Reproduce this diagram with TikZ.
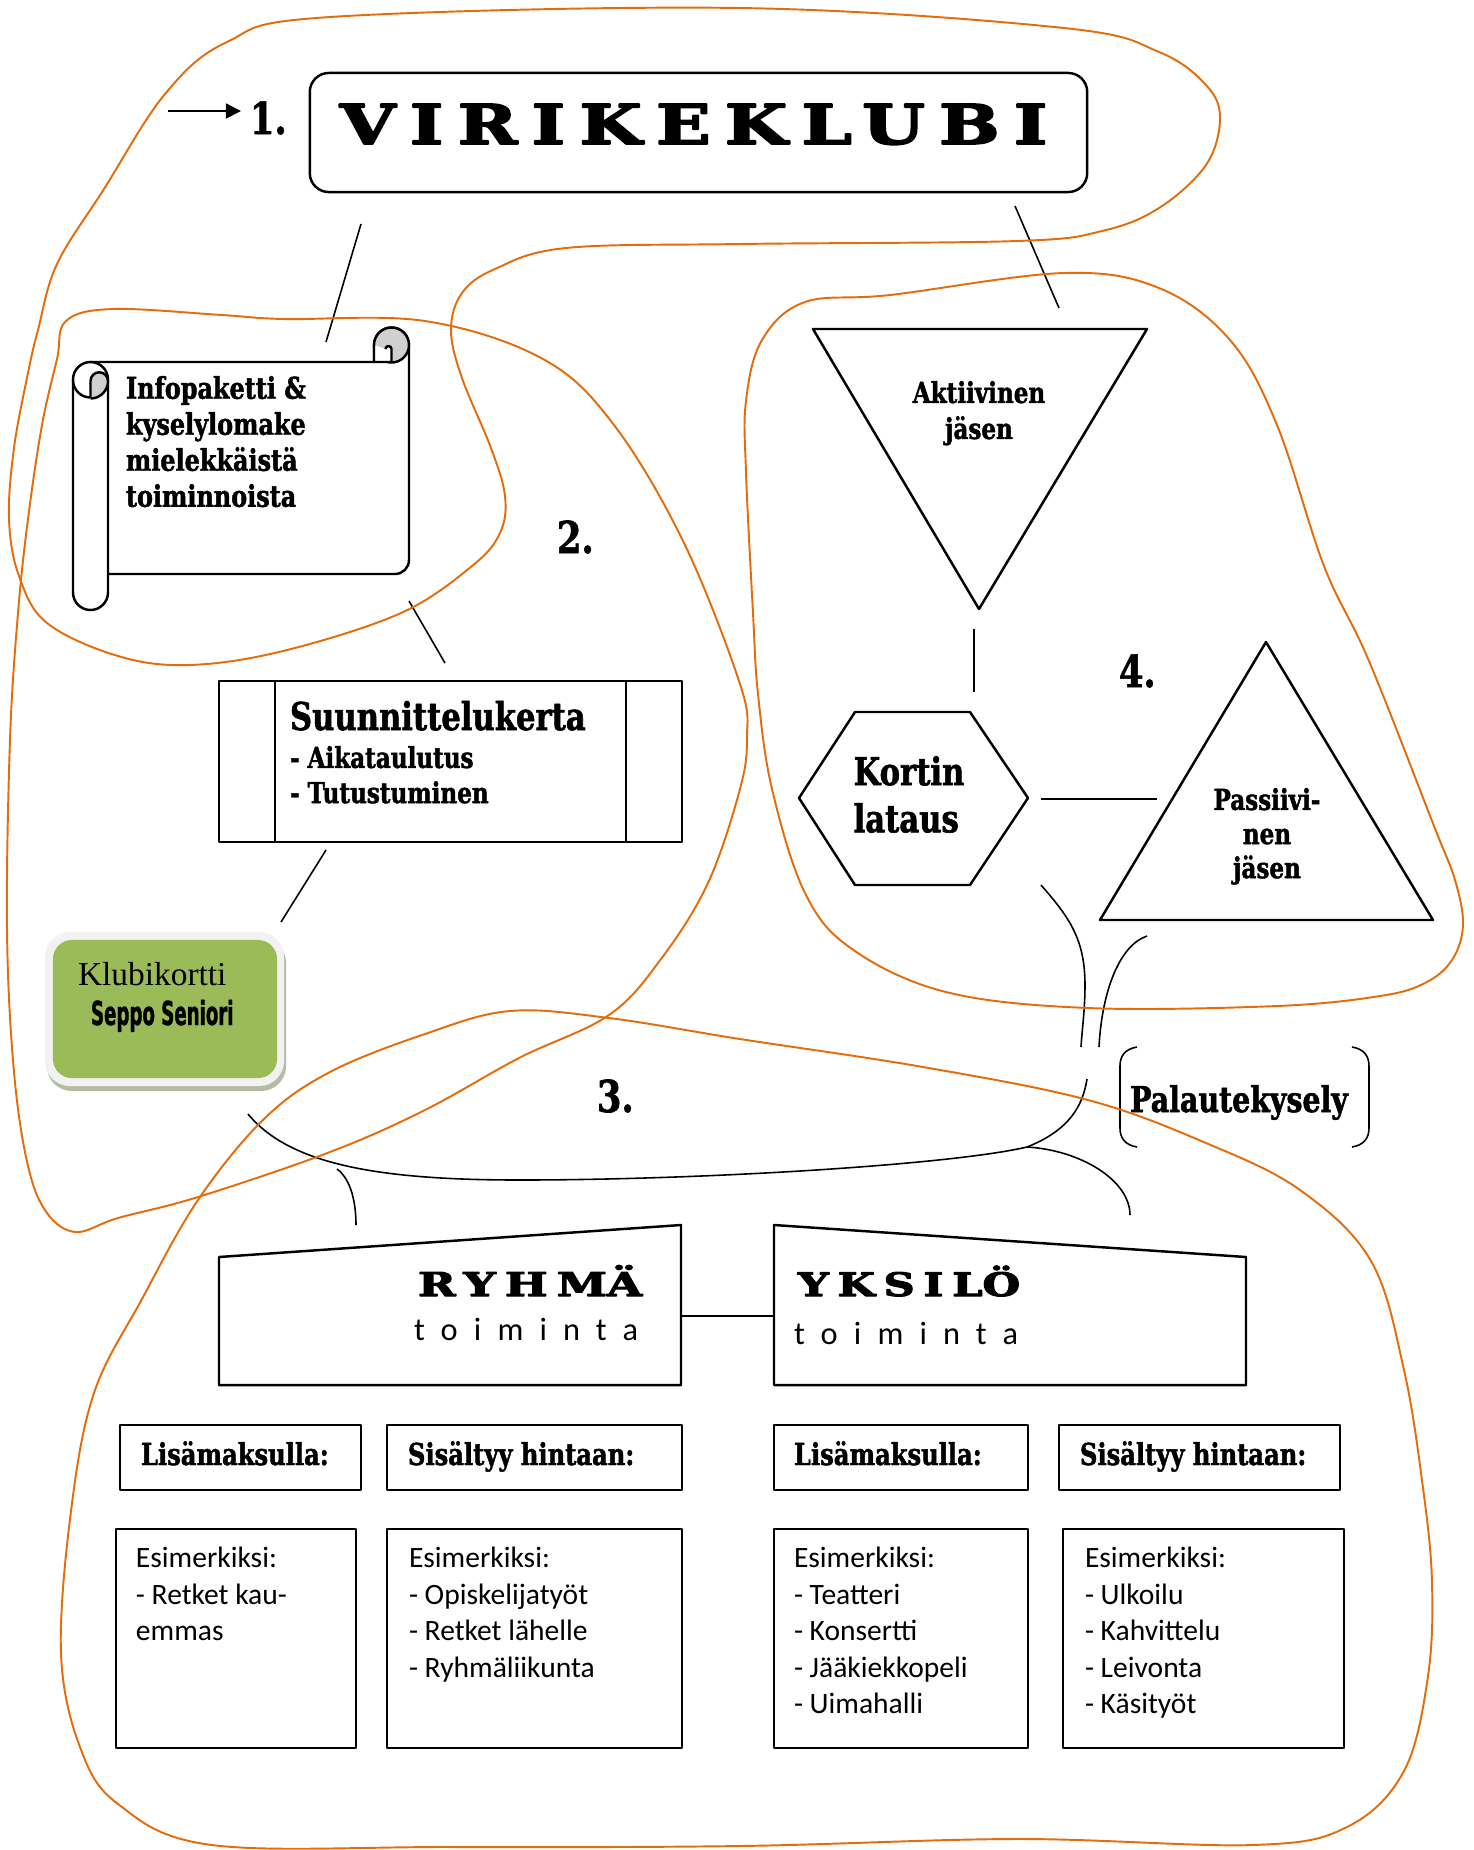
\documentclass[tikz,border=0pt]{standalone}
\usepackage{fontspec}
\usepackage{graphicx}
\usetikzlibrary{arrows.meta,calc}
\newfontfamily\heavyfont[FakeStretch=0.8,FakeBold=1.5]{DejaVu Serif}
\newfontfamily\widefont[LetterSpace=20,FakeBold=3]{DejaVu Serif}
\newfontfamily\calfont{Carlito}
\newfontfamily\spacedfont[LetterSpace=50]{Carlito}
\newfontfamily\timesfont{Liberation Serif}
\newfontfamily\narrowfont[FakeStretch=0.55,FakeBold=1]{DejaVu Sans}
\definecolor{blobline}{RGB}{228,108,10}
\definecolor{cardgreen}{RGB}{155,187,89}
\definecolor{cardframe}{RGB}{242,242,242}
\definecolor{cardshade}{RGB}{180,188,164}
\definecolor{curlgray}{RGB}{208,208,208}
\begin{document}
\begin{tikzpicture}[x=0.01cm, y=-0.01cm, line join=round,
    every node/.style={inner sep=0pt, outer sep=0pt},
    box/.style={draw, line width=0.7pt},
    link/.style={line width=0.45pt},
    blob/.style={draw=blobline, line width=0.55pt},
    heavy/.style 2 args={font=\heavyfont\bfseries\fontsize{#1}{#2}\selectfont},
    number/.style={heavy={12.5}{14}, anchor=base west},
    head/.style={heavy={8.6}{10}, anchor=base west},
    example/.style={font=\calfont\fontsize{8.4}{10.4}\selectfont, align=left, anchor=north west},
    spaced/.style={font=\spacedfont\fontsize{9.2}{11}\selectfont, anchor=base west}]
    \useasboundingbox (0,0) rectangle (1474,1850);

    % 1. the club
    \node[box, rounded corners=0.19cm, minimum width=7.77cm, minimum height=1.19cm] (club) at (698.5,132.5) {};
    \node[anchor=base west] (clubname) at (340,144) {\resizebox{7.07cm}{0.40cm}{\widefont\bfseries VIRIKEKLUBI}};
    \node[number] (one) at (250,134) {1.};
    \coordinate (arrowstart) at (168,111);
    \draw[link, -{Triangle[length=1.5mm,width=1.5mm]}, shorten >=0.9mm] (arrowstart) -- (one.west |- arrowstart);

    % 2. scroll, planning, card
    \draw[box, fill=white] (90,362) -- (374,362) -- (374,345) arc[start angle=180, end angle=360, radius=17.5]
        -- (409,560) arc[start angle=0, end angle=90, radius=14] -- (108,574);
    \filldraw[box, fill=curlgray] (391.5,345) circle[radius=17.5];
    \filldraw[box, fill=white] (374,345) -- (374,362) -- (391.5,362) -- (391.5,349) arc[start angle=0, end angle=-180, radius=3];
    \filldraw[box, fill=white, rounded corners=0.175cm] (73,362) rectangle (108,610);
    \filldraw[box, fill=curlgray] (90.5,397) -- (90.5,381) arc[start angle=180, end angle=360, radius=8.75]
        arc[start angle=0, end angle=90, radius=17.5];
    \draw[box] (73,380) arc[start angle=180, end angle=90, radius=17.5];
    \node[heavy={8.5}{10.24}, align=left, anchor=north west] (info) at (126,376)
        {Infopaketti \&\\kyselylomake\\mielekkäistä\\toiminnoista};
    \node[number] (two) at (557,553) {2.};

    \node[box, minimum width=4.63cm, minimum height=1.61cm] (plan) at (450.5,761.5) {};
    \draw[box] ([xshift=0.56cm]plan.north west) -- ([xshift=0.56cm]plan.south west);
    \draw[box] ([xshift=-0.56cm]plan.north east) -- ([xshift=-0.56cm]plan.south east);
    \node[heavy={10.9}{13}, anchor=base west] (plantitle) at (290,730) {Suunnittelukerta};
    \node[heavy={8.2}{10}, align=left, anchor=north west] (planlist) at (290,746) {- Aikataulutus\\- Tutustuminen};

    \node[fill=cardshade, rounded corners=0.25cm, minimum width=2.39cm, minimum height=1.53cm] (cardshadow) at (166.5,1014.5) {};
    \node[fill=cardframe, rounded corners=0.25cm, minimum width=2.39cm, minimum height=1.54cm] (cardframe) at (164.5,1009) {};
    \node[fill=cardgreen, rounded corners=0.19cm, minimum width=2.24cm, minimum height=1.38cm] (card) at (165,1009) {};
    \node[font=\timesfont\fontsize{9.5}{11}\selectfont, anchor=base west] (cardtitle) at (78,985) {Klubikortti};
    \node[font=\narrowfont\bfseries\fontsize{9.4}{11}\selectfont, anchor=base west] (cardname) at (91,1025) {Seppo Seniori};

    \coordinate (c1a) at (361,224);  \coordinate (c1b) at (326,342);
    \coordinate (c2a) at (1015,206); \coordinate (c2b) at (1059,308);
    \coordinate (c3a) at (409,601);  \coordinate (c3b) at (445,663);
    \coordinate (c4a) at (326,850);  \coordinate (c4b) at (281,922);
    \draw[link] (c1a) -- (c1b);
    \draw[link] (c2a) -- (c2b);
    \draw[link] (c3a) -- (c3b);
    \draw[link] (c4a) -- (c4b);

    % 4. members
    \coordinate (actL) at (813,329); \coordinate (actR) at (1147,329); \coordinate (actB) at (979,609);
    \draw[box] (actL) -- (actR) -- (actB) -- cycle;
    \node[heavy={8.2}{10.24}, align=center, anchor=north] (active) at (979,381) {Aktiivinen\\jäsen};
    \coordinate (pasT) at (1266,642); \coordinate (pasR) at (1433,920); \coordinate (pasL) at (1100,920);
    \draw[box] (pasT) -- (pasR) -- (pasL) -- cycle;
    \node[heavy={8.2}{9.7}, align=center, anchor=north] (passive) at (1267,788) {Passiivi-\\nen\\jäsen};
    \draw[box] (799,798) -- (855,712) -- (970,712) -- (1028,798) -- (970,885) -- (855,885) -- cycle;
    \node[heavy={10.9}{13.4}, align=left, anchor=north] (charge) at (909,756) {Kortin\\lataus};
    \node[number] (four) at (1119,687) {4.};
    \coordinate (c5a) at (974,629);  \coordinate (c5b) at (974,692);
    \coordinate (c6a) at (1041,799); \coordinate (c6b) at (1157,799);
    \draw[link] (c5a) -- (c5b);
    \draw[link] (c6a) -- (c6b);

    % feedback and branches
    \node[heavy={10.1}{12}, anchor=base] (feedback) at (1239,1112) {Palautekysely};
    \draw[link] (1137,1047) .. controls (1125,1049) and (1120,1056) .. (1120,1066) -- (1120,1128)
        .. controls (1120,1138) and (1125,1145) .. (1137,1147);
    \draw[link] (1352,1047) .. controls (1364,1049) and (1369,1056) .. (1369,1066) -- (1369,1128)
        .. controls (1369,1138) and (1364,1145) .. (1352,1147);
    \coordinate (t1a) at (1041,885); \coordinate (t1b) at (1081,1047);
    \coordinate (t2a) at (1147,936); \coordinate (t2b) at (1099,1047);
    \draw[link] (t1a) .. controls (1070,918) and (1085,940) .. (1085,985) .. controls (1085,1010) and (1082,1030) .. (t1b);
    \draw[link] (t2a) .. controls (1120,945) and (1102,990) .. (t2b);
    \coordinate (t3a) at (248,1114); \coordinate (t3b) at (1087,1079);
    \coordinate (fork) at (1027,1147); \coordinate (forkL) at (337,1169);
    \draw[link] (t3a) .. controls (290,1165) and (380,1180) .. (520,1180)
        .. controls (700,1180) and (950,1165) .. (fork) .. controls (1070,1130) and (1083,1105) .. (t3b);
    \draw[link] (forkL) .. controls (352,1180) and (356,1205) .. (356,1225);
    \draw[link] (fork) .. controls (1080,1150) and (1130,1180) .. (1130,1215);
    \node[number] (three) at (597,1112) {3.};

    % 3. group and individual
    \draw[box] (219,1257) -- (681,1225) -- (681,1385) -- (219,1385) -- cycle;
    \draw[box] (774,1225) -- (1246,1257) -- (1246,1385) -- (774,1385) -- cycle;
    \coordinate (groupE) at (681,1316); \coordinate (soloW) at (774,1316);
    \draw[box] (groupE) -- (soloW);
    \node[anchor=base west] (group) at (418,1296) {\resizebox{2.24cm}{0.24cm}{\widefont\bfseries RYHM\smash{Ä}}};
    \node[spaced] (groupsub) at (414,1340) {toiminta};
    \node[anchor=base west] (solo) at (798,1296) {\resizebox{2.22cm}{0.24cm}{\widefont\bfseries YKSIL\smash{Ö}}};
    \node[spaced] (solosub) at (794,1344) {toiminta};

    \node[box, minimum width=2.41cm, minimum height=0.65cm] (extraA) at (240.5,1457.5) {};
    \node[box, minimum width=2.95cm, minimum height=0.65cm] (inclA) at (534.5,1457.5) {};
    \node[box, minimum width=2.54cm, minimum height=0.65cm] (extraB) at (901,1457.5) {};
    \node[box, minimum width=2.81cm, minimum height=0.65cm] (inclB) at (1199.5,1457.5) {};
    \node[head] (extraAtext) at (141,1465) {Lisämaksulla:};
    \node[head] (inclAtext) at (408,1465) {Sisältyy hintaan:};
    \node[head] (extraBtext) at (794,1465) {Lisämaksulla:};
    \node[head] (inclBtext) at (1080,1465) {Sisältyy hintaan:};

    \node[box, minimum width=2.40cm, minimum height=2.19cm] (exA) at (236,1638.5) {};
    \node[box, minimum width=2.95cm, minimum height=2.19cm] (exB) at (534.5,1638.5) {};
    \node[box, minimum width=2.54cm, minimum height=2.19cm] (exC) at (901,1638.5) {};
    \node[box, minimum width=2.81cm, minimum height=2.19cm] (exD) at (1203.5,1638.5) {};
    \node[example] (exAtext) at (136,1547) {Esimerkiksi:\\- Retket kau-\\emmas};
    \node[example] (exBtext) at (409,1547) {Esimerkiksi:\\- Opiskelijatyöt\\- Retket lähelle\\- Ryhmäliikunta};
    \node[example] (exCtext) at (794,1547) {Esimerkiksi:\\- Teatteri\\- Konsertti\\- Jääkiekkopeli\\- Uimahalli};
    \node[example] (exDtext) at (1085,1547) {Esimerkiksi:\\- Ulkoilu\\- Kahvittelu\\- Leivonta\\- Käsityöt};

    % hand drawn areas
    \draw[blob] plot[smooth cycle, tension=0.6] coordinates {(330,17) (740,8) (1064,28) (1159,52) (1206,85) (1220,118)
        (1206,165) (1159,208) (1102,231) (1017,241) (740,244) (566,248) (495,269) (462,293) (451,330) (462,378)
        (491,448) (505,496) (500,533) (472,566) (401,613) (283,651) (189,665) (118,656) (47,623) (19,576) (9,519)
        (14,448) (28,373) (38,330) (57,264) (104,189) (165,94) (227,42)};
    \draw[blob] plot[smooth cycle, tension=0.6] coordinates {(66,321) (113,309) (222,315) (283,319) (425,321) (543,359)
        (614,425) (684,543) (740,684) (747,737) (740,789) (708,883) (661,959) (609,1015) (519,1058) (425,1110)
        (330,1152) (198,1197) (118,1218) (76,1232) (47,1213) (28,1166) (14,1072) (7,930) (10,740) (18,613)
        (28,519) (42,425) (57,359)};
    \draw[blob] plot[smooth cycle, tension=0.6] coordinates {(890,295) (1064,273) (1159,288) (1230,340) (1277,425)
        (1324,566) (1369,661) (1434,826) (1455,880) (1463,925) (1452,960) (1425,983) (1380,996) (1277,1006)
        (1088,1008) (946,992) (852,949) (805,893) (772,789) (758,694) (753,613) (746,472) (746,401) (762,340) (805,302)};
    \draw[blob] plot[smooth cycle, tension=0.6] coordinates {(264,1119) (330,1072) (425,1034) (510,1011) (609,1018)
        (740,1039) (923,1067) (1088,1100) (1206,1143) (1300,1190) (1371,1261) (1404,1370) (1423,1488) (1432,1582)
        (1428,1676) (1404,1771) (1347,1827) (1253,1845) (1017,1839) (740,1846) (450,1847) (212,1845) (118,1804)
        (80,1747) (61,1653) (71,1511) (94,1393) (142,1299) (198,1200)};
\end{tikzpicture}
\end{document}
